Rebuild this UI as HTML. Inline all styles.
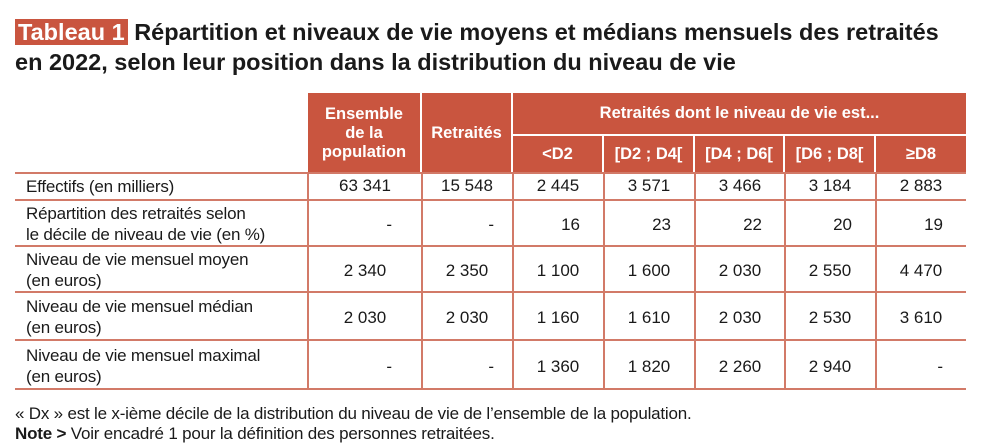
<!DOCTYPE html>
<html><head><meta charset="utf-8"><style>
body{margin:0;width:988px;height:438px;background:#fff;position:relative;overflow:hidden;font-family:"Liberation Sans",sans-serif;color:#1a1a1a}
.t{position:absolute;left:15px;top:17px;font-size:23.5px;font-weight:bold;line-height:30px;letter-spacing:0}
.tag{background:#c9553f;color:#fff;padding:0 3px;font-weight:bold}
.d{position:absolute;font-size:17px;line-height:21px;letter-spacing:-0.2px}
.h{position:absolute;background:#c9553f;color:#fff;font-weight:bold;font-size:16.5px;line-height:19px;text-align:center;display:flex;align-items:center;justify-content:center}
.hl{position:absolute;height:2px;background:#d27a68;left:15px;width:951px}
.vl{position:absolute;width:2px;background:#d27a68;top:173px;height:216px}
.c{position:absolute;font-size:17px;text-align:center;width:90px}
.r{position:absolute;font-size:17px;text-align:right}
</style></head><body>
<div class="t"><span class="tag">Tableau 1</span> Répartition et niveaux de vie moyens et médians mensuels des retraités<br>en 2022, selon leur position dans la distribution du niveau de vie</div>

<div class="h" style="left:308px;top:93px;width:112px;height:80px">Ensemble<br>de la<br>population</div>
<div class="h" style="left:422px;top:93px;width:89px;height:80px">Retraités</div>
<div class="h" style="left:513px;top:93px;width:453px;height:41px">Retraités dont le niveau de vie est...</div>
<div class="h" style="left:513px;top:136px;width:89px;height:37px">&lt;D2</div>
<div class="h" style="left:604px;top:136px;width:89px;height:37px">[D2 ; D4[</div>
<div class="h" style="left:695px;top:136px;width:88px;height:37px">[D4 ; D6[</div>
<div class="h" style="left:785px;top:136px;width:89px;height:37px">[D6 ; D8[</div>
<div class="h" style="left:876px;top:136px;width:90px;height:37px">≥D8</div>

<div class="hl" style="top:172px"></div>
<div class="hl" style="top:199px"></div>
<div class="hl" style="top:245px"></div>
<div class="hl" style="top:291px"></div>
<div class="hl" style="top:339px"></div>
<div class="hl" style="top:388px"></div>
<div class="vl" style="left:307px"></div>
<div class="vl" style="left:421px"></div>
<div class="vl" style="left:512px"></div>
<div class="vl" style="left:603px"></div>
<div class="vl" style="left:694px"></div>
<div class="vl" style="left:784px"></div>
<div class="vl" style="left:875px"></div>

<div class="d" style="left:26px;top:176px">Effectifs (en milliers)</div>
<div class="d" style="left:26px;top:203px">Répartition des retraités selon<br>le décile de niveau de vie (en %)</div>
<div class="d" style="left:26px;top:249px">Niveau de vie mensuel moyen<br>(en euros)</div>
<div class="d" style="left:26px;top:296px">Niveau de vie mensuel médian<br>(en euros)</div>
<div class="d" style="left:26px;top:345px">Niveau de vie mensuel maximal<br>(en euros)</div>

<div class="c" style="left:320px;top:176px">63 341</div>
<div class="c" style="left:422px;top:176px">15 548</div>
<div class="c" style="left:513px;top:176px">2 445</div>
<div class="c" style="left:604px;top:176px">3 571</div>
<div class="c" style="left:695px;top:176px">3 466</div>
<div class="c" style="left:785px;top:176px">3 184</div>
<div class="c" style="left:876px;top:176px">2 883</div>

<div class="r" style="right:596px;top:215px">-</div>
<div class="r" style="right:494px;top:215px">-</div>
<div class="r" style="right:408px;top:215px">16</div>
<div class="r" style="right:317px;top:215px">23</div>
<div class="r" style="right:226px;top:215px">22</div>
<div class="r" style="right:136px;top:215px">20</div>
<div class="r" style="right:45px;top:215px">19</div>

<div class="c" style="left:320px;top:261px">2 340</div>
<div class="c" style="left:422px;top:261px">2 350</div>
<div class="c" style="left:513px;top:261px">1 100</div>
<div class="c" style="left:604px;top:261px">1 600</div>
<div class="c" style="left:695px;top:261px">2 030</div>
<div class="c" style="left:785px;top:261px">2 550</div>
<div class="c" style="left:876px;top:261px">4 470</div>

<div class="c" style="left:320px;top:308px">2 030</div>
<div class="c" style="left:422px;top:308px">2 030</div>
<div class="c" style="left:513px;top:308px">1 160</div>
<div class="c" style="left:604px;top:308px">1 610</div>
<div class="c" style="left:695px;top:308px">2 030</div>
<div class="c" style="left:785px;top:308px">2 530</div>
<div class="c" style="left:876px;top:308px">3 610</div>

<div class="r" style="right:596px;top:357px">-</div>
<div class="r" style="right:494px;top:357px">-</div>
<div class="c" style="left:513px;top:357px">1 360</div>
<div class="c" style="left:604px;top:357px">1 820</div>
<div class="c" style="left:695px;top:357px">2 260</div>
<div class="c" style="left:785px;top:357px">2 940</div>
<div class="r" style="right:45px;top:357px">-</div>

<div class="d" style="left:15px;top:403px">« Dx » est le x-ième décile de la distribution du niveau de vie de l’ensemble de la population.</div>
<div class="d" style="left:15px;top:423px"><b>Note &gt;</b> Voir encadré 1 pour la définition des personnes retraitées.</div>
</body></html>
